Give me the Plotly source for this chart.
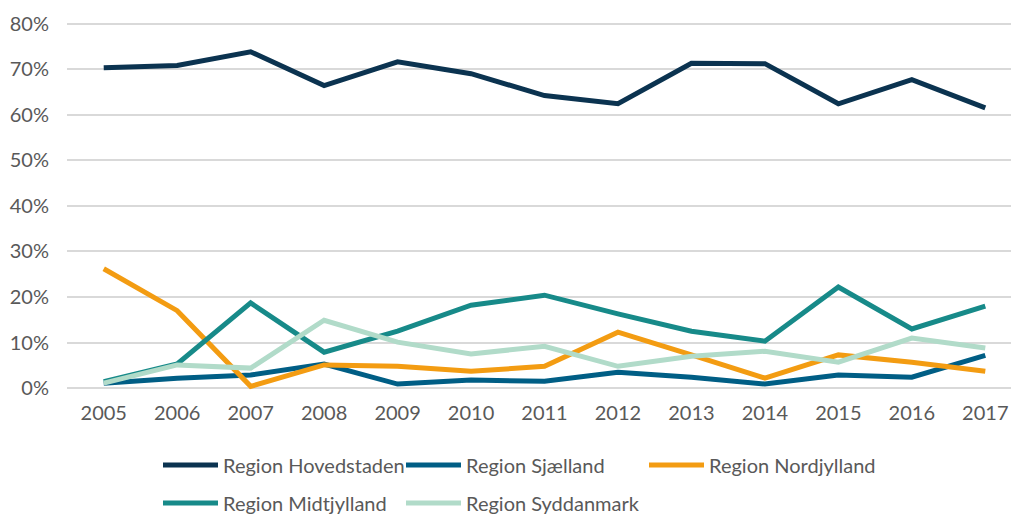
import plotly.graph_objects as go

years = [2005, 2006, 2007, 2008, 2009, 2010, 2011, 2012, 2013, 2014, 2015, 2016, 2017]
year_labels = [str(y) for y in years]

hovedstaden = [70.3, 70.8, 73.8, 66.4, 71.6, 69.0, 64.2, 62.4, 71.3, 71.2, 62.4, 67.7, 61.5]
sjaelland   = [1.1, 2.2, 2.9, 5.3, 0.9, 1.8, 1.5, 3.5, 2.4, 0.9, 2.9, 2.4, 7.2]
nordjylland = [26.2, 17.0, 0.4, 5.1, 4.8, 3.7, 4.8, 12.3, 7.3, 2.2, 7.3, 5.7, 3.7]
midtjylland = [1.4, 5.3, 18.7, 7.9, 12.5, 18.2, 20.4, 16.3, 12.5, 10.3, 22.2, 13.0, 18.0]
syddanmark  = [1.1, 5.1, 4.4, 14.9, 10.1, 7.5, 9.2, 4.8, 7.0, 8.1, 5.7, 11.0, 8.8]

series = [
    ("Region Hovedstaden", hovedstaden, "#0b3350", "legend"),
    ("Region Sjælland", sjaelland, "#005e85", "legend"),
    ("Region Nordjylland", nordjylland, "#f39c12", "legend"),
    ("Region Midtjylland", midtjylland, "#178a89", "legend2"),
    ("Region Syddanmark", syddanmark, "#b1dbc9", "legend2"),
]

y_ticks = [0, 10, 20, 30, 40, 50, 60, 70, 80]
y_ticktext = [f"{v}%" for v in y_ticks]

FONT = "Lato, 'Open Sans', sans-serif"
TXT = "#595959"

fig = go.Figure()
for name, vals, color, lg in series:
    fig.add_trace(go.Scatter(
        x=list(range(len(years))), y=vals, name=name, mode="lines",
        line=dict(color=color, width=5), legend=lg,
    ))

legend_common = dict(
    orientation="h", xref="container", yref="container",
    xanchor="left", yanchor="middle",
    entrywidth=173, entrywidthmode="pixels", itemwidth=55,
    font=dict(size=20, color=TXT), bgcolor="rgba(0,0,0,0)",
    traceorder="normal",
)

fig.update_layout(
    width=1011, height=517,
    margin=dict(l=67, r=0, t=19, b=122),
    paper_bgcolor="white", plot_bgcolor="white",
    font=dict(family=FONT, size=20, color=TXT),
    xaxis=dict(
        range=[-0.5, 12.35], tickmode="array",
        tickvals=list(range(len(years))), ticktext=year_labels,
        showgrid=False, zeroline=False, showline=False, ticks="",
        ticklabelstandoff=4, tickfont=dict(size=20, color=TXT),
        automargin=False,
    ),
    yaxis=dict(
        range=[-1.5, 81], tickmode="array", tickvals=y_ticks, ticktext=y_ticktext,
        showgrid=True, gridcolor="#d9d9d9", gridwidth=2,
        zeroline=False, showline=False, ticks="",
        ticklabelstandoff=17, tickfont=dict(size=20, color=TXT),
        automargin=False,
    ),
    legend=dict(legend_common, x=158/1011, y=1-465/517),
    legend2=dict(legend_common, x=158/1011, y=1-503/517),
)

fig.write_html("out.html", config={"displayModeBar": False},
               post_script="document.body.style.margin='0';")
